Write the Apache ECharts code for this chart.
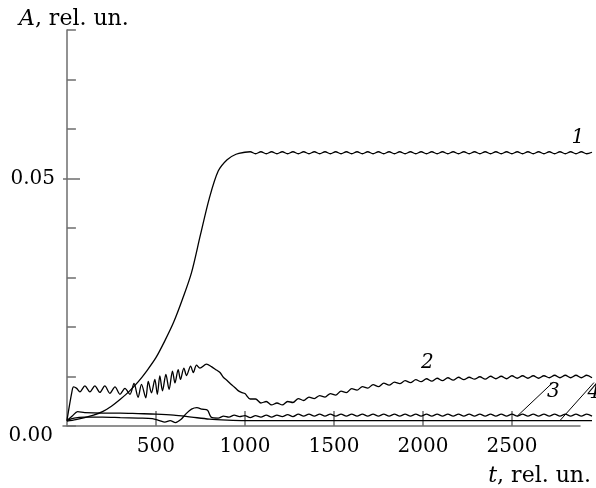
<!DOCTYPE html>
<html>
<head>
<meta charset="utf-8">
<script src="https://cdn.jsdelivr.net/npm/echarts@6/dist/echarts.min.js"></script>
<style>
  html, body { margin: 0; padding: 0; background: #fff; }
  #chart { width: 596px; height: 488px; }
</style>
</head>
<body>
<div id="chart"></div>
<script>
// time ticks and labels
var xTicks = [500, 1000, 1500, 2000, 2500];

// common time grid for the late part of curves 1-3
var tTail = [1000, 1030, 1060, 1090, 1120, 1150, 1180, 1210, 1240, 1270,
  1300, 1330, 1360, 1390, 1420, 1450, 1480, 1510, 1540, 1570,
  1600, 1630, 1660, 1690, 1720, 1750, 1780, 1810, 1840, 1870,
  1900, 1930, 1960, 1990, 2020, 2050, 2080, 2110, 2140, 2170,
  2200, 2230, 2260, 2290, 2320, 2350, 2380, 2410, 2440, 2470,
  2500, 2530, 2560, 2590, 2620, 2650, 2680, 2710, 2740, 2770,
  2800, 2830, 2860, 2890, 2920, 2950];

// curve 1
var t1 = [0, 50, 100, 150, 200, 250, 300, 350, 400, 450, 500, 550, 600, 650, 700, 750, 800, 850, 900, 950];
var a1 = [0.0010, 0.0013, 0.0017, 0.0022, 0.0029, 0.0040, 0.0054, 0.0070, 0.0089, 0.0112,
  0.0138, 0.0172, 0.0210, 0.0257, 0.0310, 0.0386, 0.0460, 0.0515, 0.0538, 0.0549];
var a1Tail = [0.0553, 0.0554, 0.0550, 0.0554, 0.0550, 0.0554, 0.0550, 0.0554, 0.0550, 0.0554,
  0.0550, 0.0554, 0.0550, 0.0554, 0.0550, 0.0554, 0.0550, 0.0554, 0.0550, 0.0554,
  0.0550, 0.0554, 0.0550, 0.0554, 0.0550, 0.0554, 0.0550, 0.0554, 0.0550, 0.0554,
  0.0550, 0.0554, 0.0550, 0.0554, 0.0550, 0.0554, 0.0550, 0.0554, 0.0550, 0.0554,
  0.0550, 0.0554, 0.0550, 0.0554, 0.0550, 0.0554, 0.0550, 0.0554, 0.0550, 0.0554,
  0.0550, 0.0554, 0.0550, 0.0554, 0.0550, 0.0554, 0.0550, 0.0554, 0.0550, 0.0554,
  0.0550, 0.0554, 0.0550, 0.0554, 0.0550, 0.0553];

// curve 2
var t2 = [0, 28, 37, 55, 73, 101, 129, 157, 185, 213, 241, 270, 298, 326, 354, 377, 400, 419, 443, 457,
  475, 494, 508, 522, 537, 556, 574, 593, 607, 625, 638, 657, 672, 695, 710, 728, 747, 784, 812, 840,
  860, 880, 900, 920, 940, 960, 980];
var a2 = [0.0011, 0.0069, 0.0079, 0.0076, 0.0069, 0.0081, 0.0069, 0.0081, 0.0068, 0.0081,
  0.0066, 0.0079, 0.0064, 0.0076, 0.0064, 0.0086, 0.0058, 0.0084, 0.0057, 0.0090,
  0.0067, 0.0094, 0.0064, 0.0101, 0.0071, 0.0104, 0.0074, 0.0111, 0.0087, 0.0114,
  0.0094, 0.0117, 0.0102, 0.0121, 0.0108, 0.0123, 0.0117, 0.0125, 0.0120, 0.0113,
  0.0108, 0.0098, 0.0092, 0.0085, 0.0079, 0.0072, 0.0068];
var a2Tail = [0.00655, 0.00545, 0.00545, 0.00465, 0.00495, 0.00425, 0.00465, 0.00425, 0.00495, 0.00475,
  0.00555, 0.00515, 0.00585, 0.00555, 0.00615, 0.00585, 0.00655, 0.00625, 0.00705, 0.00675,
  0.00755, 0.00725, 0.00795, 0.00765, 0.00835, 0.00795, 0.00865, 0.00825, 0.00885, 0.00855,
  0.00915, 0.00875, 0.00935, 0.00895, 0.00955, 0.00905, 0.00965, 0.00915, 0.00975, 0.00925,
  0.00985, 0.00935, 0.00985, 0.00945, 0.00995, 0.00945, 0.01005, 0.00955, 0.01005, 0.00955,
  0.01015, 0.00965, 0.01015, 0.00965, 0.01015, 0.00965, 0.01015, 0.00975, 0.01025, 0.00975,
  0.01025, 0.00975, 0.01025, 0.00975, 0.01025, 0.00975];

// curve 3
var t3 = [0, 40, 100, 200, 300, 400, 480, 520, 550, 580, 610, 640, 670, 700, 730, 760, 790, 810, 850, 880, 910, 940, 970];
var a3 = [0.0011, 0.0016, 0.0018, 0.0018, 0.0017, 0.0016, 0.0015, 0.0011, 0.0008, 0.0011,
  0.0007, 0.0013, 0.0025, 0.0034, 0.0037, 0.0034, 0.0032, 0.0018, 0.0016, 0.0020,
  0.0018, 0.0022, 0.0019];
var a3Tail = [0.0021, 0.0017, 0.0021, 0.0018, 0.0022, 0.0018, 0.0022, 0.0019, 0.0023, 0.0019,
  0.0024, 0.0020, 0.0024, 0.0020, 0.0024, 0.0020, 0.0024, 0.0020, 0.0024, 0.0020,
  0.0024, 0.0020, 0.0024, 0.0020, 0.0024, 0.0020, 0.0024, 0.0020, 0.0024, 0.0020,
  0.0024, 0.0020, 0.0024, 0.0020, 0.0024, 0.0020, 0.0024, 0.0020, 0.0024, 0.0020,
  0.0024, 0.0020, 0.0024, 0.0020, 0.0024, 0.0020, 0.0024, 0.0020, 0.0024, 0.0020,
  0.0024, 0.0020, 0.0024, 0.0020, 0.0024, 0.0020, 0.0024, 0.0020, 0.0024, 0.0020,
  0.0024, 0.0020, 0.0024, 0.0020, 0.0024, 0.0020];

// curve 4
var t4 = [0, 30, 60, 100, 200, 300, 400, 500, 600, 700, 800, 900, 1000, 1500, 2000, 2500, 2770, 2950];
var a4 = [0.0011, 0.0020, 0.0029, 0.0027, 0.0026, 0.0026, 0.0025, 0.0024, 0.0022, 0.0018,
  0.0014, 0.0012, 0.0011, 0.0011, 0.0011, 0.0011, 0.0011, 0.0011];

var serif = 'DejaVu Serif';
var fs = 20;
var axisGray = '#6e6e6e';

// join time/value arrays into points; put a curve label on the point at labelT
function build(ts, vs, labelT, text) {
  var out = [];
  for (var i = 0; i < ts.length; i++) {
    if (ts[i] === labelT) {
      out.push({
        value: [ts[i], vs[i]],
        label: { show: true, formatter: text }
      });
    } else {
      out.push([ts[i], vs[i]]);
    }
  }
  return out;
}

function curve(data, dx, dy, leader) {
  return {
    type: 'line',
    xAxisIndex: 1,
    yAxisIndex: 2,
    data: data,
    clip: false,
    smooth: 0.3,
    symbol: 'circle',
    symbolSize: 0,
    showSymbol: true,
    silent: true,
    lineStyle: { color: '#000', width: 1.3 },
    itemStyle: { color: '#000' },
    label: {
      show: false,
      position: 'inside',
      fontFamily: serif,
      fontStyle: 'italic',
      fontSize: fs,
      color: '#000'
    },
    labelLayout: { dx: dx, dy: dy, hideOverlap: false },
    labelLine: { show: leader, lineStyle: { color: '#000', width: 1 } }
  };
}

var chart = echarts.init(document.getElementById('chart'), null, { renderer: 'canvas' });

chart.setOption({
  animation: false,
  backgroundColor: '#fff',
  title: [
    {
      text: '{i|A}, rel. un.',
      left: 14, top: 3,
      textStyle: {
        fontFamily: serif, fontSize: 22, fontWeight: 'normal', color: '#000',
        rich: { i: { fontFamily: serif, fontSize: 22, fontStyle: 'italic', color: '#000' } }
      }
    },
    {
      text: '{i|t}, rel. un.',
      right: 0, top: 460,
      textStyle: {
        fontFamily: serif, fontSize: 22, fontWeight: 'normal', color: '#000',
        rich: { i: { fontFamily: serif, fontSize: 22, fontStyle: 'italic', color: '#000' } }
      }
    }
  ],
  // grid 0 carries the drawn axes, grid 1 (same scale, a bit wider) carries the curves
  grid: [
    { left: 63, right: 16, top: 30, bottom: 62, outerBoundsMode: 'none' },
    { left: 63, right: 4, top: 30, bottom: 62, outerBoundsMode: 'none' }
  ],
  xAxis: [
    {
      type: 'value',
      gridIndex: 0,
      min: -22,
      max: 2882,
      splitLine: { show: false },
      axisLine: { lineStyle: { color: axisGray, width: 1.5 } },
      axisTick: {
        inside: true, length: 15, customValues: xTicks,
        lineStyle: { color: axisGray, width: 1.5 }
      },
      axisLabel: {
        customValues: xTicks, margin: 11,
        formatter: function (v) { return String(v); },
        fontFamily: serif, fontSize: fs, color: '#000'
      }
    },
    {
      type: 'value',
      gridIndex: 1,
      min: -22,
      max: 2950,
      show: false
    }
  ],
  yAxis: [
    {
      type: 'value',
      gridIndex: 0,
      position: 'left',
      min: 0, max: 0.08, interval: 0.01,
      splitLine: { show: false },
      axisLine: { show: true, lineStyle: { color: axisGray, width: 1.5 } },
      axisTick: { inside: true, length: 9, lineStyle: { color: axisGray, width: 1.5 } },
      axisLabel: {
        customValues: [0.05], margin: 8,
        formatter: function (v) { return v.toFixed(2); },
        fontFamily: serif, fontSize: fs, color: '#000'
      }
    },
    {
      type: 'value',
      gridIndex: 0,
      position: 'left',
      offset: 0,
      min: 0, max: 0.08,
      splitLine: { show: false },
      axisLine: { show: false },
      axisTick: { show: true, inside: true, length: 17, customValues: [0.05], lineStyle: { color: axisGray, width: 1.5 } },
      axisLabel: {
        customValues: [0], margin: 10, verticalAlign: 'top',
        formatter: function (v) { return v.toFixed(2); },
        fontFamily: serif, fontSize: fs, color: '#000'
      }
    },
    {
      type: 'value',
      gridIndex: 1,
      min: 0, max: 0.08,
      show: false
    }
  ],
  series: [
    curve(build(t1.concat(tTail), a1.concat(a1Tail), 2860, '1'), 2, -16, false),
    curve(build(t2.concat(tTail), a2.concat(a2Tail), 2020, '2'), 1, -16, false),
    curve(build(t3.concat(tTail), a3.concat(a3Tail), 2530, '3'), 36, -24, true),
    curve(build(t4, a4, 2770, '4'), 34, -28, true)
  ]
});
</script>
</body>
</html>
